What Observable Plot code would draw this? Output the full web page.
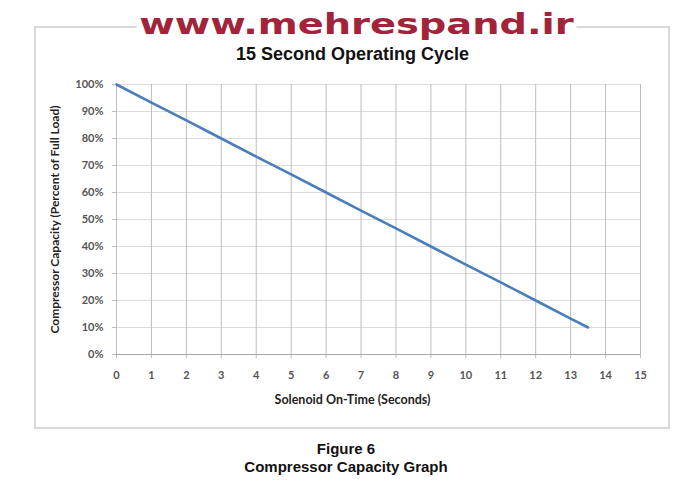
<!DOCTYPE html>
<html>
<head>
<meta charset="utf-8">
<script src="https://cdn.jsdelivr.net/npm/d3@7"></script>
<script src="https://cdn.jsdelivr.net/npm/@observablehq/plot@0.6"></script>
<style>
  html, body { margin: 0; padding: 0; background: #fff; }
  #page { position: relative; width: 700px; height: 481px; overflow: hidden; background: #fff; }
  #box { position: absolute; left: 34px; top: 26px; width: 632px; height: 399px; border: 2px solid #d9d9d9; }
  #wm { position: absolute; left: 0; top: 9px; width: 712px; text-align: center; }
  #wm span { display: inline-block; background: #fff; padding: 0 2px; color: #a3233a;
    font: bold 28px "DejaVu Sans", sans-serif; line-height: 32px; transform: scaleX(1.37); transform-origin: center; }
  #title { position: absolute; left: 0; top: 44px; width: 705px; text-align: center;
    font: bold 18px "Liberation Sans", Arial, sans-serif; color: #111; }
  #chart { position: absolute; left: 0; top: 60px; }
  #cap { position: absolute; left: 0; top: 440px; width: 692px; text-align: center;
    font: bold 15px "Liberation Sans", Arial, sans-serif; color: #111; line-height: 18px; }
</style>
</head>
<body>
<div id="page">
  <div id="box"></div>
  <div id="wm"><span>www.mehrespand.ir</span></div>
  <div id="title">15 Second Operating Cycle</div>
  <div id="chart"></div>
  <div id="cap">Figure 6<br>Compressor Capacity Graph</div>
</div>
<script>
const seconds  = [0, 1, 2, 3, 4, 5, 6, 7, 8, 9, 10, 11, 12, 13, 13.5];
const capacity = [1.00, 0.933, 0.867, 0.80, 0.733, 0.667, 0.60, 0.533, 0.467, 0.40, 0.333, 0.267, 0.20, 0.133, 0.10];
const xTicks = [0, 1, 2, 3, 4, 5, 6, 7, 8, 9, 10, 11, 12, 13, 14, 15];
const yTicks = [0, 0.1, 0.2, 0.3, 0.4, 0.5, 0.6, 0.7, 0.8, 0.9, 1.0];
const xLabel = "Solenoid On-Time (Seconds)";
const yLabel = "Compressor Capacity (Percent of Full Load)";

const data = seconds.map((s, i) => ({s, c: capacity[i]}));

const chart = Plot.plot({
  width: 700,
  height: 360,
  marginTop: 24,
  marginBottom: 66,
  marginLeft: 116,
  marginRight: 60,
  style: {background: "none", fontFamily: "Lato, 'Open Sans', sans-serif", fontSize: "11px", color: "#555"},
  x: {domain: [0, 15], label: null},
  y: {domain: [0, 1], label: null},
  marks: [
    Plot.gridY(yTicks, {stroke: "#dcdcdc", strokeOpacity: 1}),
    Plot.gridX(xTicks, {stroke: "#bdbdbd", strokeOpacity: 1}),
    Plot.axisX(xTicks, {tickSize: 4, tickPadding: 13, stroke: "#bdbdbd", fill: "#555", fontWeight: "bold", tickFormat: d => String(d)}),
    Plot.axisY(yTicks, {tickSize: 4, tickPadding: 9, stroke: "#bdbdbd", fill: "#555", fontWeight: "bold", tickFormat: d3.format(".0%")}),
    Plot.ruleY([0], {stroke: "#a6a6a6", strokeWidth: 1}),
    Plot.line(data, {x: "s", y: "c", stroke: "#4a7ebb", strokeWidth: 2.6}),
    Plot.text([xLabel], {frameAnchor: "bottom", dx: -26, dy: 49, fill: "#222", fontWeight: "bold", fontSize: 12.5}),
    Plot.text([yLabel], {frameAnchor: "left", textAnchor: "middle", dx: -61, rotate: -90, fill: "#222", fontWeight: "bold", fontSize: 12})
  ]
});
document.getElementById("chart").appendChild(chart);
</script>
</body>
</html>
